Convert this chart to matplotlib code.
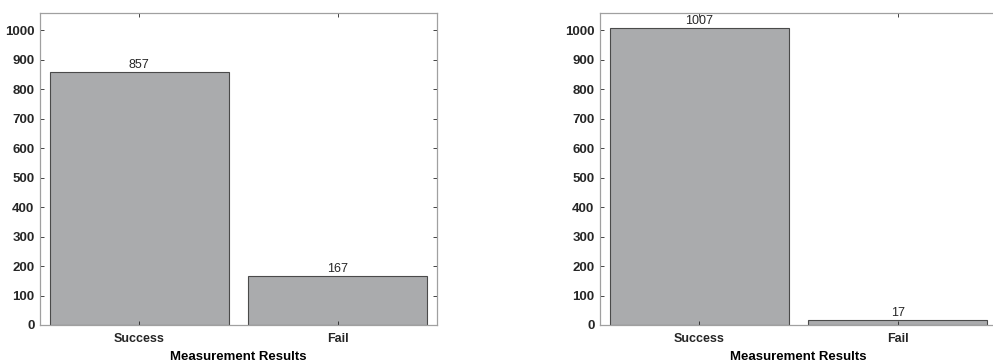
import matplotlib.pyplot as plt
import matplotlib

matplotlib.rcParams['font.family'] = ['Liberation Sans', 'DejaVu Sans']
matplotlib.rcParams['font.size'] = 9

categories = ['Success', 'Fail']
counts_a = [857, 167]
counts_b = [1007, 17]
yticks = list(range(0, 1001, 100))

fig = plt.figure(figsize=(9.93, 3.63), dpi=100)
ax1 = fig.add_axes([0.0403, 0.1047, 0.3998, 0.8595])
ax2 = fig.add_axes([0.6042, 0.1047, 0.3998, 0.8595])

for ax, counts in [(ax1, counts_a), (ax2, counts_b)]:
    x = list(range(1, len(categories) + 1))
    bars = ax.bar(x, counts, width=0.9, color='#aaabad', edgecolor='#4a4a4a', linewidth=0.8)
    for b, v in zip(bars, counts):
        ax.text(b.get_x() + b.get_width() / 2, v + 4, str(v), ha='center', va='bottom',
                fontsize=9, color='#262626')
    ax.set_xlim(0.5, 2.5)
    ax.set_ylim(0, 1058)
    ax.set_xticks(x)
    ax.set_xticklabels(categories, fontweight='bold')
    ax.set_yticks(yticks)
    ax.set_yticklabels([str(t) for t in yticks], fontweight='bold', fontsize=9.5)
    ax.set_xlabel('Measurement Results', fontweight='bold', fontsize=9.5, labelpad=4)
    ax.tick_params(direction='in', length=3, width=0.6, color='#262626',
                   top=True, right=True, labelcolor='#262626')
    ax.tick_params(axis='x', pad=6)
    ax.tick_params(axis='y', pad=4)
    for s in ax.spines.values():
        s.set_color('#a0a0a0')
        s.set_linewidth(0.9)

fig.savefig('out.png', dpi=100)
